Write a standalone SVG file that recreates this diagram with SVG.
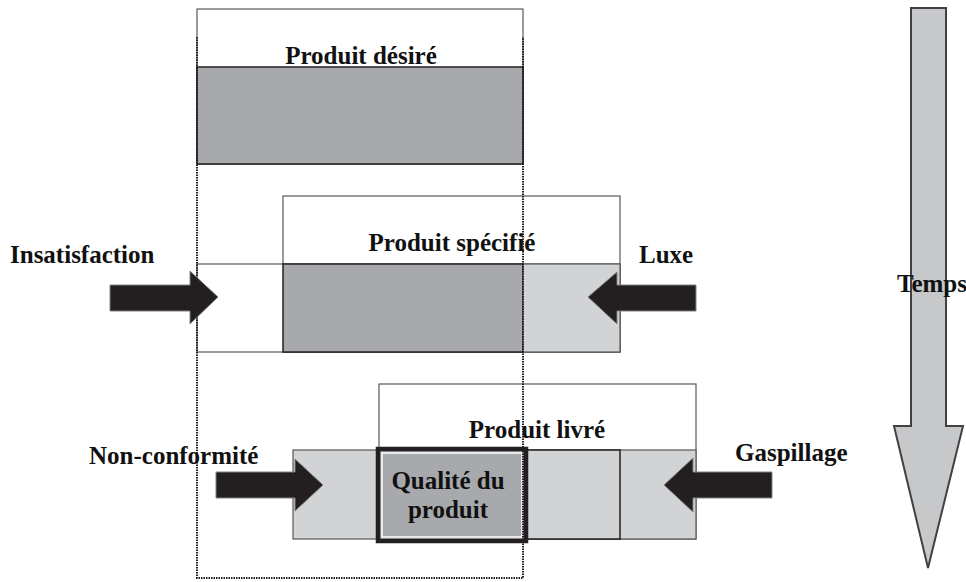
<svg xmlns="http://www.w3.org/2000/svg" width="966" height="582" viewBox="0 0 966 582">
<style>
.t{font-family:"Liberation Serif","Times New Roman",serif;font-weight:bold;font-size:25px;fill:#111}
.w{fill:#fff;stroke:#58595b;stroke-width:1.2}
.dg{fill:#a7a9ac;stroke:#231f20;stroke-width:1.5}
.lg{fill:#d1d3d4;stroke:#58595b;stroke-width:1.2}
.ar{fill:#231f20;stroke:#808285;stroke-width:1}
.dot{fill:none;stroke:#231f20;stroke-width:2;stroke-dasharray:1.5 1}
</style>
<rect width="966" height="582" fill="#fff"/>
<g id="produit-desire">
<rect class="w" x="197" y="9" width="326" height="155"/>
<rect class="dg" x="197" y="67" width="326" height="97"/>
<text class="t" x="361" y="64" text-anchor="middle">Produit désiré</text>
</g>
<g id="produit-specifie">
<rect class="w" x="283" y="196" width="337" height="156"/>
<rect class="w" x="197" y="264" width="423" height="88"/>
<rect class="dg" x="283" y="264" width="240" height="88"/>
<rect class="lg" x="523" y="264" width="97" height="88"/>
<text class="t" x="452" y="251" text-anchor="middle">Produit spécifié</text>
</g>
<g id="produit-livre">
<rect class="w" x="379" y="384" width="317" height="155"/>
<rect class="lg" x="293" y="450" width="403" height="89" stroke="#808285"/>
<rect x="379" y="450" width="241" height="89" fill="#d1d3d4" stroke="#231f20" stroke-width="1.5"/>
<text class="t" x="537" y="438" text-anchor="middle">Produit livré</text>
</g>
<g id="qualite-produit">
<rect x="378" y="449" width="148" height="92" fill="#a7a9ac" stroke="#231f20" stroke-width="4.5"/>
<rect x="382" y="453" width="140" height="84" fill="none" stroke="#fff" stroke-width="1.5"/>
<text class="t" x="448" y="489" text-anchor="middle">Qualité du</text>
<text class="t" x="448" y="518" text-anchor="middle">produit</text>
</g>
<g id="zone-pointillee">
<path class="dot" d="M197,37 V578 H523 V37"/>
</g>
<g id="connectors">
<polygon class="ar" points="110,285 190,285 190,271 218,297 190,324 190,311 110,311"/>
<polygon class="ar" points="696,285 617,285 617,272 588,297 617,324 617,311 696,311"/>
<polygon class="ar" points="216,472 295,472 295,459 323,485 295,511 295,498 216,498"/>
<polygon class="ar" points="772,472 693,472 693,458 664,485 693,512 693,498 772,498"/>
</g>
<g id="temps">
<polygon points="911,8 946,8 946,426 963,426 928,568 894,426 911,426" fill="#c7c8ca" stroke="#414042" stroke-width="2"/>
<text class="t" x="897" y="292">Temps</text>
</g>
<g id="labels">
<text class="t" x="10" y="263">Insatisfaction</text>
<text class="t" x="639" y="263">Luxe</text>
<text class="t" x="89" y="464">Non-conformité</text>
<text class="t" x="735" y="461">Gaspillage</text>
</g>
</svg>
